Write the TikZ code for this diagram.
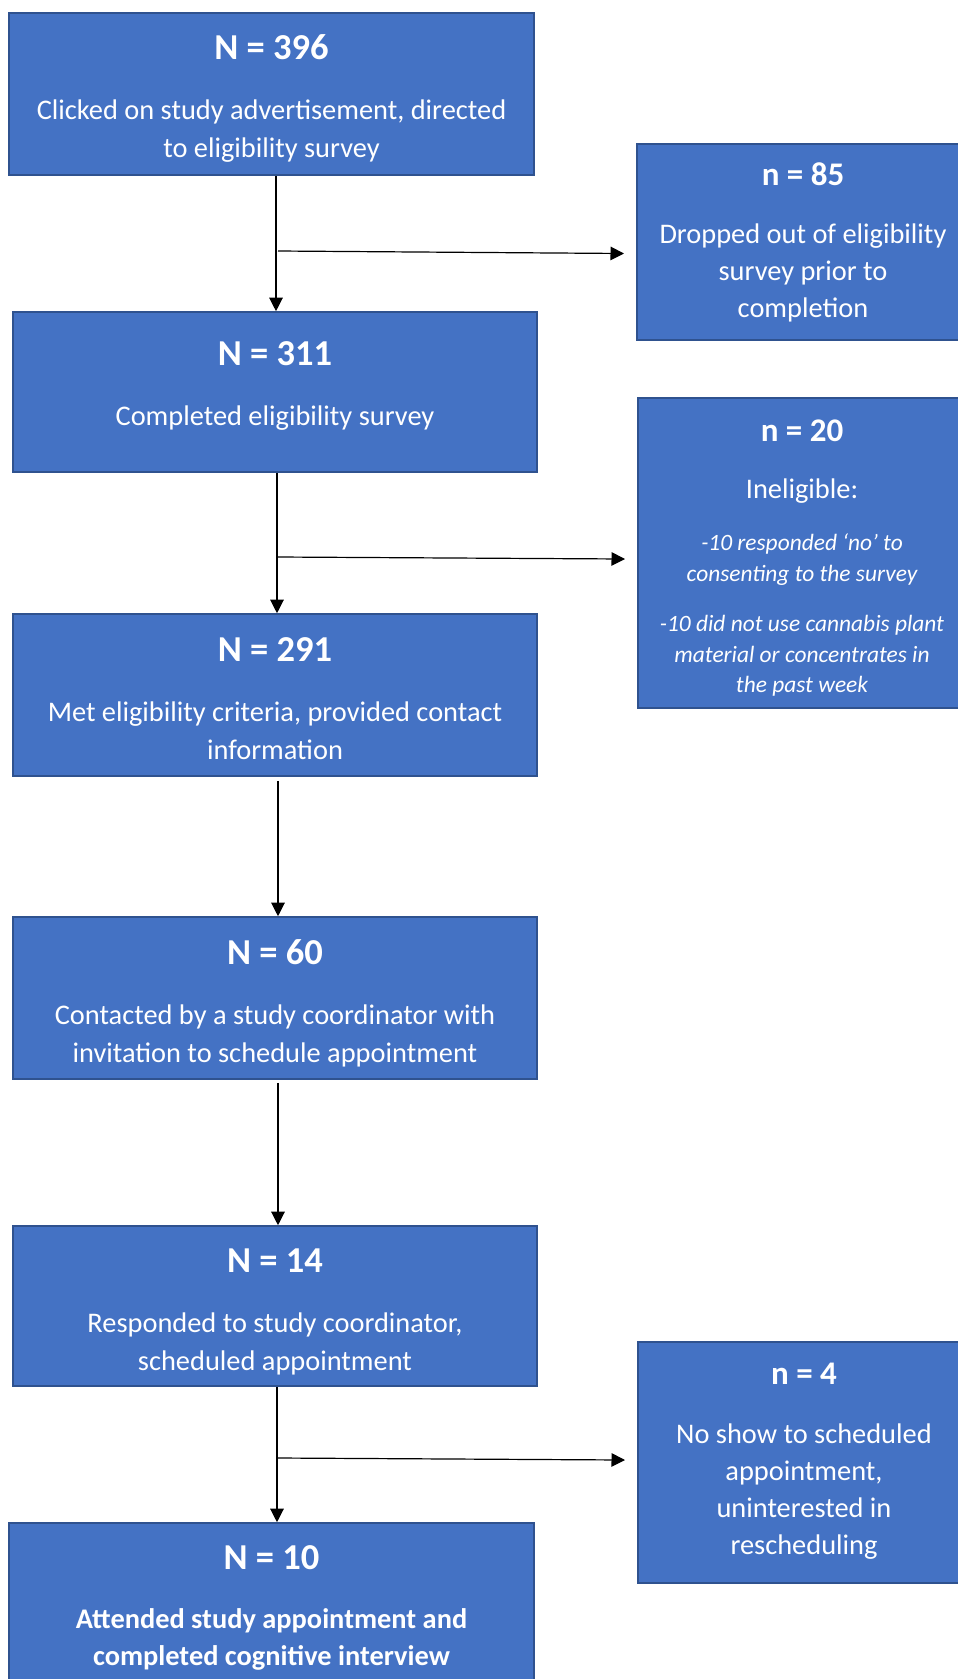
\documentclass[tikz,border=0pt]{standalone}
\usepackage{fontspec}
\setmainfont{Carlito}
\usetikzlibrary{arrows.meta}
\definecolor{boxfill}{HTML}{4472C4}
\definecolor{boxline}{HTML}{2F528F}
\tikzset{
  box/.style={draw=boxline, fill=boxfill, line width=1.6pt, inner sep=0pt},
  txt/.style={anchor=base, inner sep=0pt, text=white},
  headL/.style={txt, font=\fontsize{36.5}{40}\selectfont\bfseries},
  headR/.style={txt, font=\fontsize{33}{38}\selectfont\bfseries},
  body/.style={txt, font=\fontsize{28.4}{34}\selectfont},
  bodyB/.style={txt, font=\fontsize{28.4}{34}\selectfont\bfseries},
  small/.style={txt, font=\fontsize{23.4}{29}\selectfont\itshape},
  arr/.style={line width=1.2pt, -{Triangle[length=13.5pt,width=13.5pt]}},
}
\begin{document}
\begin{tikzpicture}[x=1pt,y=-1pt]
\useasboundingbox[fill=white] (0,0) rectangle (958,1679);

% main boxes
\node[box, minimum width=525, minimum height=162] (b1) at (271.5,94) {};
\node[box, minimum width=524, minimum height=160] (b2) at (275,392) {};
\node[box, minimum width=524, minimum height=162] (b3) at (275,695) {};
\node[box, minimum width=524, minimum height=162] (b4) at (275,998) {};
\node[box, minimum width=524, minimum height=160] (b5) at (275,1306) {};
\node[box, minimum width=525, minimum height=197] (b6) at (271.5,1621.5) {};
% side boxes
\node[box, minimum width=335, minimum height=196] (r1) at (804.5,242) {};
\node[box, minimum width=332, minimum height=310] (r2) at (804,553) {};
\node[box, minimum width=332, minimum height=241] (r3) at (804,1462.5) {};

% texts box 1
\node[headL] (t1a) at (271.5,59) {N = 396};
\node[body] (t1b) at (271.5,119) {Clicked on study advertisement, directed};
\node[body] (t1c) at (271.5,157) {to eligibility survey};
% box 2
\node[headL] (t2a) at (275,365) {N = 311};
\node[body] (t2b) at (275,425) {Completed eligibility survey};
% box 3
\node[headL] (t3a) at (275,661.5) {N = 291};
\node[body] (t3b) at (275,721) {Met eligibility criteria, provided contact};
\node[body] (t3c) at (275,759) {information};
% box 4
\node[headL] (t4a) at (275,964.5) {N = 60};
\node[body] (t4b) at (275,1024) {Contacted by a study coordinator with};
\node[body] (t4c) at (275,1062) {invitation to schedule appointment};
% box 5
\node[headL] (t5a) at (275,1272.5) {N = 14};
\node[body] (t5b) at (275,1332) {Responded to study coordinator,};
\node[body] (t5c) at (275,1370) {scheduled appointment};
% box 6
\node[headL] (t6a) at (271.5,1569) {N = 10};
\node[bodyB] (t6b) at (271.5,1628) {Attended study appointment and};
\node[bodyB] (t6c) at (271.5,1665) {completed cognitive interview};

% side box 1
\node[headR] (s1a) at (803,185) {n = 85};
\node[body] (s1b) at (803,243) {Dropped out of eligibility};
\node[body] (s1c) at (803,280) {survey prior to};
\node[body] (s1d) at (803,317) {completion};
% side box 2
\node[headR] (s2a) at (802,441) {n = 20};
\node[body] (s2b) at (802,498) {Ineligible:};
\node[small] (s2c) at (802,550) {-10 responded ‘no’ to};
\node[small] (s2d) at (802,581) {consenting to the survey};
\node[small] (s2e) at (802,631) {-10 did not use cannabis plant};
\node[small] (s2f) at (802,662) {material or concentrates in};
\node[small] (s2g) at (802,692) {the past week};
% side box 3
\node[headR] (s3a) at (804,1384) {n = 4};
\node[body] (s3b) at (804,1443) {No show to scheduled};
\node[body] (s3c) at (804,1480) {appointment,};
\node[body] (s3d) at (804,1517) {uninterested in};
\node[body] (s3e) at (804,1554) {rescheduling};

% vertical connectors
\draw[arr] ([xshift=4.5pt]b1.south) -- ([xshift=1pt]b2.north);
\draw[arr] ([xshift=2pt]b2.south) -- ([xshift=2pt]b3.north);
\draw[arr] ([xshift=3pt,yshift=-4pt]b3.south) -- ([xshift=3pt]b4.north);
\draw[arr] ([xshift=3pt,yshift=-3pt]b4.south) -- ([xshift=3pt]b5.north);
\draw[arr] ([xshift=2pt]b5.south) -- ([xshift=5.5pt]b6.north);

% side connectors
\coordinate (h1s) at (278,251);
\coordinate (h1e) at (624,253.5);
\coordinate (h2s) at (278,557);
\coordinate (h2e) at (625,559);
\coordinate (h3s) at (278,1458);
\coordinate (h3e) at (625,1460);
\draw[arr] (h1s) -- (h1e);
\draw[arr] (h2s) -- (h2e);
\draw[arr] (h3s) -- (h3e);
\end{tikzpicture}
\end{document}
